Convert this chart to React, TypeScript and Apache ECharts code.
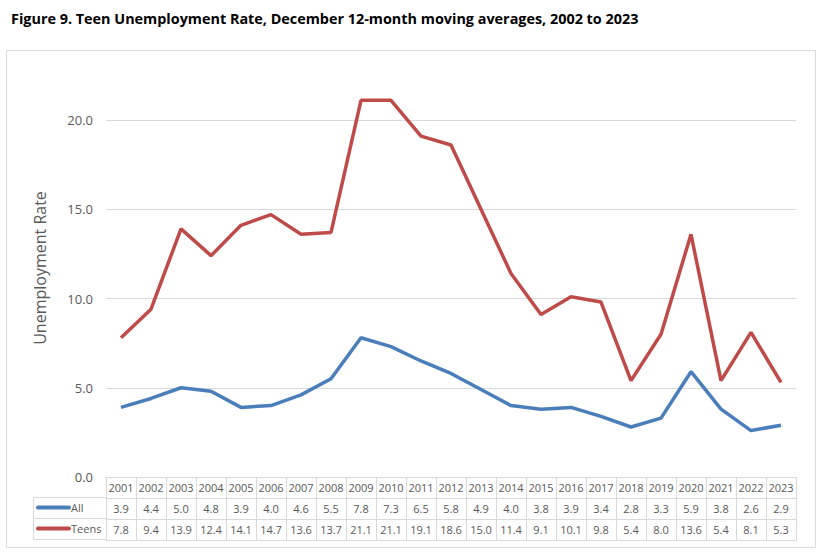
import React, { useEffect, useRef } from "react";
import * as echarts from "echarts";

const years = ["2001","2002","2003","2004","2005","2006","2007","2008","2009","2010","2011","2012","2013","2014","2015","2016","2017","2018","2019","2020","2021","2022","2023"];
const allRate = [3.9,4.4,5.0,4.8,3.9,4.0,4.6,5.5,7.8,7.3,6.5,5.8,4.9,4.0,3.8,3.9,3.4,2.8,3.3,5.9,3.8,2.6,2.9];
const teenRate = [7.8,9.4,13.9,12.4,14.1,14.7,13.6,13.7,21.1,21.1,19.1,18.6,15.0,11.4,9.1,10.1,9.8,5.4,8.0,13.6,5.4,8.1,5.3];
const seriesNames = ["All", "Teens"];
const yTicks = { min: 0, max: 20, interval: 5 };

const FONT = "'Open Sans', 'Liberation Sans', sans-serif";
const GRAY = "#595959";
const LINE = "#d9d9d9";
const BLUE = "#4A7EBB";
const RED = "#BE4B48";

export default function App() {
  const ref = useRef<HTMLDivElement>(null);
  useEffect(() => {
    if (!ref.current) return;
    const chart = echarts.init(ref.current, undefined, { renderer: "svg" });
    const gridLeft = 106, gridRight = 796, gridBottomY = 477;
    const rowH = 21;
    const colors = [BLUE, RED];
    const tableAxis = (idx: number, data: string[] | null) => ({
      type: "category" as const,
      gridIndex: 0,
      position: "bottom" as const,
      offset: idx * rowH,
      data: data ?? years.map(() => ""),
      boundaryGap: true,
      axisLine: { show: true, lineStyle: { color: LINE, width: 1 } },
      axisTick: { show: false },
      axisLabel: { show: !!data, color: GRAY, fontSize: 11, fontFamily: FONT, margin: 5, interval: 0 },
      splitLine: { show: false },
    });
    const legendGraphics: any[] = [];
    seriesNames.forEach((name, i) => {
      const cy = 507.5 + i * rowH;
      legendGraphics.push({
        type: "line",
        shape: { x1: 38, y1: cy, x2: 69, y2: cy },
        style: { stroke: colors[i], lineWidth: 4, lineCap: "round" },
      });
      legendGraphics.push({
        type: "text",
        x: 71,
        y: cy,
        style: { text: name, fill: GRAY, fontSize: 11, fontFamily: FONT, align: "left", verticalAlign: "middle" },
      });
    });
    chart.setOption({
      animation: false,
      title: {
        text: "Figure 9. Teen Unemployment Rate, December 12-month moving averages, 2002 to 2023",
        left: 6,
        top: 6,
        textStyle: { fontFamily: FONT, fontWeight: "bold", fontSize: 14.4, color: "#000" },
      },
      grid: { left: gridLeft, right: 826 - gridRight, top: 120, bottom: 559 - gridBottomY, containLabel: false },
      xAxis: [
        {
          type: "category",
          gridIndex: 0,
          position: "bottom",
          data: years,
          boundaryGap: true,
          axisLine: { show: true, lineStyle: { color: LINE, width: 1 } },
          axisTick: { show: true, length: rowH * 3, lineStyle: { color: LINE } },
          axisLabel: { color: GRAY, fontSize: 11, fontFamily: FONT, margin: 5, interval: 0 },
        },
        tableAxis(1, allRate.map((v) => v.toFixed(1))),
        tableAxis(2, teenRate.map((v) => v.toFixed(1))),
        tableAxis(3, null),
      ],
      yAxis: {
        type: "value",
        min: yTicks.min,
        max: yTicks.max,
        interval: yTicks.interval,
        axisLine: { show: false },
        axisTick: { show: false },
        axisLabel: { color: GRAY, fontSize: 13, fontFamily: FONT, margin: 13, formatter: (v: number) => v.toFixed(1) },
        splitLine: { lineStyle: { color: LINE, width: 1 } },
      },
      graphic: [
        { type: "rect", shape: { x: 6.5, y: 50.5, width: 809, height: 497 }, style: { fill: "none", stroke: LINE, lineWidth: 1 }, silent: true },
        { type: "line", shape: { x1: 33.5, y1: 497.5, x2: 106, y2: 497.5 }, style: { stroke: LINE, lineWidth: 1 } },
        { type: "line", shape: { x1: 33.5, y1: 518.5, x2: 106, y2: 518.5 }, style: { stroke: LINE, lineWidth: 1 } },
        { type: "line", shape: { x1: 33.5, y1: 539.5, x2: 106, y2: 539.5 }, style: { stroke: LINE, lineWidth: 1 } },
        { type: "line", shape: { x1: 33.5, y1: 497.5, x2: 33.5, y2: 539.5 }, style: { stroke: LINE, lineWidth: 1 } },
        ...legendGraphics,
        {
          type: "text",
          x: 40,
          y: 268,
          rotation: Math.PI / 2,
          style: { text: "Unemployment Rate", fill: GRAY, fontSize: 16, fontFamily: FONT, align: "center", verticalAlign: "middle" },
        },
      ],
      series: seriesNames.map((name, i) => ({
        name,
        type: "line",
        data: i === 0 ? allRate : teenRate,
        xAxisIndex: 0,
        symbol: "none",
        clip: false,
        lineStyle: { color: colors[i], width: 3.5 },
        itemStyle: { color: colors[i] },
      })),
    });
    return () => chart.dispose();
  }, []);
  return <div ref={ref} style={{ position: "fixed", left: 0, top: 0, width: 826, height: 559, background: "#fff" }} />;
}
